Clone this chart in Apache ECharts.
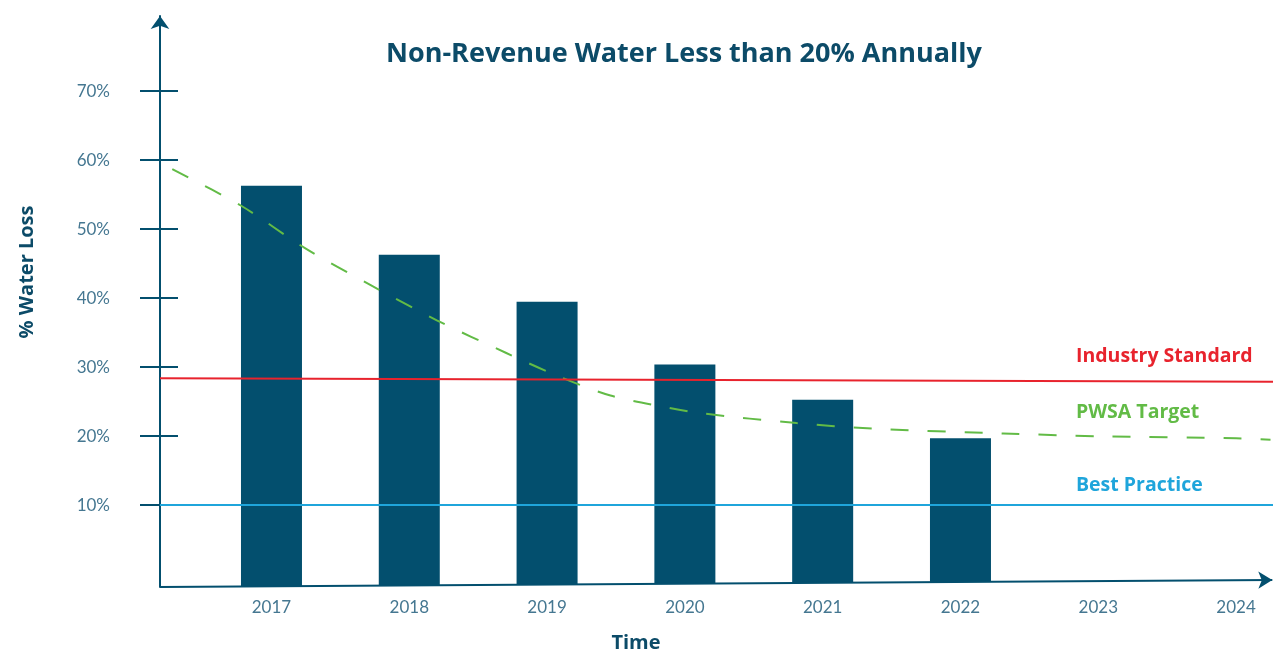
<!DOCTYPE html>
<html>
<head>
<meta charset="utf-8">
<script src="https://cdn.jsdelivr.net/npm/echarts@6/dist/echarts.min.js"></script>
<style>
html, body { margin: 0; padding: 0; background: #fff; }
#main { width: 1273px; height: 654px; }
</style>
</head>
<body>
<div id="main"></div>
<script>
// data
var years = [2017, 2018, 2019, 2020, 2021, 2022];
var waterLoss = [56.3, 46.3, 39.5, 30.4, 25.3, 19.7];
var yearTicks = [2017, 2018, 2019, 2020, 2021, 2022, 2023, 2024];
var pctTicks = [10, 20, 30, 40, 50, 60, 70];
// PWSA target curve: [year, %]
var targetYears = [2016.28, 2016.78, 2017.24, 2017.72, 2018.2, 2018.7, 2019.07, 2019.46, 2019.86, 2020.13, 2020.81, 2021.36, 2022.31, 2023.0, 2024.0, 2024.25];
var targetVals = [58.7, 53.4, 47.3, 41.9, 36.8, 32.1, 28.8, 25.9, 24.2, 23.3, 21.9, 21.1, 20.4, 20.0, 19.7, 19.5];
var industryStd = [28.4, 27.9];  // left end, right end
var bestPractice = [10.0, 10.0];

var X_MIN = 2016.191, X_MAX = 2024.268;
var Y_MIN = -1.85, Y_MAX = 80.9;
var FLOOR = [-1.85, -0.85];   // slanted baseline, left and right

var DARK = '#034f6e';
var TEXT = '#0c4b68';
var LABEL = '#457791';
var RED = '#e8232d';
var GREEN = '#62bb46';
var BLUE = '#1fa5db';
var FONT = 'Lato';
var BOLD = '"Open Sans"';

function floorAt(x) {
	return FLOOR[0] + (FLOOR[1] - FLOOR[0]) * (x - X_MIN) / (X_MAX - X_MIN);
}

var chart = echarts.init(document.getElementById('main'));

var barData = years.map(function (y, i) { return [y, waterLoss[i]]; });
var targetData = targetYears.map(function (y, i) { return [y, targetVals[i]]; });

var op = {
	animation: false,
	textStyle: { fontFamily: FONT },
	title: {
		text: 'Non-Revenue Water Less than 20% Annually',
		left: 386,
		top: 41,
		padding: 0,
		textStyle: { color: TEXT, fontSize: 27, fontWeight: 'bold', fontFamily: BOLD }
	},
	grid: { left: 160, right: 0, top: 16, bottom: 67 },
	xAxis: {
		type: 'value',
		min: X_MIN,
		max: X_MAX,
		axisLine: { show: false },
		axisTick: { show: false },
		splitLine: { show: false },
		axisLabel: {
			customValues: yearTicks,
			margin: 12,
			color: LABEL,
			fontSize: 17,
			fontFamily: FONT,
			formatter: function (v) { return String(Math.round(v)); }
		}
	},
	yAxis: [{
		type: 'value',
		min: Y_MIN,
		max: Y_MAX,
		splitLine: { show: false },
		axisLine: {
			show: true,
			symbol: ['none', 'arrow'],
			symbolSize: [14, 13],
			lineStyle: { color: DARK, width: 2 }
		},
		axisTick: {
			show: true,
			customValues: pctTicks,
			length: 20,
			lineStyle: { color: DARK, width: 2 }
		},
		axisLabel: {
			customValues: pctTicks,
			margin: 50,
			color: LABEL,
			fontSize: 17,
			fontFamily: FONT,
			padding: [0, 0, 7, 0],
			formatter: '{value}%'
		}
	}, {
		// inner half of the crossing ticks
		type: 'value',
		position: 'left',
		min: Y_MIN,
		max: Y_MAX,
		splitLine: { show: false },
		axisLine: { show: false },
		axisLabel: { show: false },
		axisTick: {
			show: true,
			inside: true,
			customValues: pctTicks,
			length: 18,
			lineStyle: { color: DARK, width: 2 }
		}
	}],
	graphic: [
		{ type: 'text', x: 27, y: 272, rotation: Math.PI / 2,
			style: { text: '% Water Loss', fill: TEXT, font: 'bold 20px ' + BOLD, align: 'center', verticalAlign: 'middle' } },
		{ type: 'text', x: 636, y: 643,
			style: { text: 'Time', fill: TEXT, font: 'bold 20px ' + BOLD, align: 'center', verticalAlign: 'middle' } },
		{ type: 'text', x: 1076, y: 356,
			style: { text: 'Industry Standard', fill: RED, font: 'bold 19.5px ' + BOLD, align: 'left', verticalAlign: 'middle' } },
		{ type: 'text', x: 1076, y: 412,
			style: { text: 'PWSA Target', fill: GREEN, font: 'bold 19.5px ' + BOLD, align: 'left', verticalAlign: 'middle' } },
		{ type: 'text', x: 1076, y: 485,
			style: { text: 'Best Practice', fill: BLUE, font: 'bold 19.5px ' + BOLD, align: 'left', verticalAlign: 'middle' } }
	],
	series: [{
		name: 'Water Loss',
		type: 'custom',
		data: barData,
		z: 2,
		renderItem: function (params, api) {
			var x = api.value(0);
			var top = api.coord([x, api.value(1)]);
			var base = api.coord([x, floorAt(x)]);
			var w = 61;
			return {
				type: 'rect',
				shape: { x: top[0] - w / 2, y: top[1], width: w, height: base[1] - top[1] },
				style: { fill: DARK }
			};
		}
	}, {
		name: 'PWSA Target',
		type: 'line',
		data: targetData,
		smooth: 0.3,
		symbol: 'none',
		z: 3,
		lineStyle: { color: GREEN, width: 2, type: [18, 19] }
	}, {
		// reference lines and the slanted time axis
		name: 'refs',
		type: 'line',
		data: [],
		z: 4,
		markLine: {
			silent: true,
			animation: false,
			label: { show: false },
			data: [
				[{ coord: [X_MIN, industryStd[0]], symbol: 'none', lineStyle: { color: RED, width: 2, type: 'solid' } },
					{ coord: [X_MAX, industryStd[1]], symbol: 'none' }],
				[{ coord: [X_MIN, bestPractice[0]], symbol: 'none', lineStyle: { color: BLUE, width: 2, type: 'solid' } },
					{ coord: [X_MAX, bestPractice[1]], symbol: 'none' }],
				[{ coord: [X_MIN, FLOOR[0]], symbol: 'none', lineStyle: { color: DARK, width: 2, type: 'solid' } },
					{ coord: [X_MAX - 0.005, FLOOR[1]], symbol: 'arrow', symbolSize: [13, 14] }]
			]
		}
	}]
};

chart.setOption(op);
</script>
</body>
</html>
